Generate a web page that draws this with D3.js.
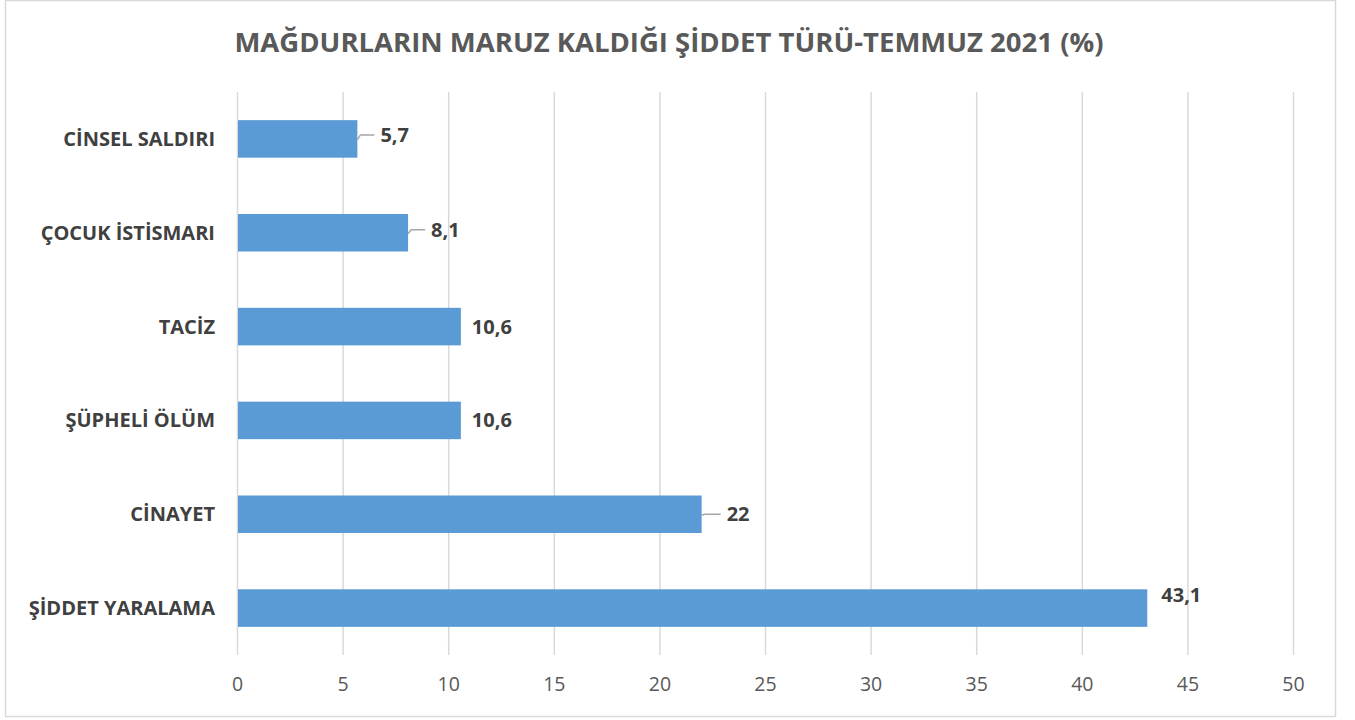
<!DOCTYPE html>
<meta charset="utf-8">
<style>
body { margin: 0; background: #fff; font-family: "Open Sans", sans-serif; }
.grid line { stroke: #d9d9d9; stroke-width: 1.5; }
.grid path { display: none; }
.xaxis path, .xaxis line { display: none; }
.xaxis text { fill: #595959; font-size: 19.5px; font-family: "Open Sans", sans-serif; }
.cat { fill: #404040; font-size: 20px; font-weight: bold; }
.val { fill: #404040; font-size: 20px; font-weight: bold; }
.title { fill: #595959; font-size: 27.5px; font-weight: bold; }
</style>
<body>
<script src="https://cdn.jsdelivr.net/npm/d3@7"></script>
<script>

var width = 1355,
    height = 720;

var title = "MAĞDURLARIN MARUZ KALDIĞI ŞİDDET TÜRÜ-TEMMUZ 2021 (%)";
var categories = ["CİNSEL SALDIRI", "ÇOCUK İSTİSMARI", "TACİZ", "ŞÜPHELİ ÖLÜM", "CİNAYET", "ŞİDDET YARALAMA"];
var values = [5.7, 8.1, 10.6, 10.6, 22, 43.1];
var labels = ["5,7", "8,1", "10,6", "10,6", "22", "43,1"];
var ticks = [0, 5, 10, 15, 20, 25, 30, 35, 40, 45, 50];

var margin = {top: 92, right: 62, bottom: 65, left: 237};

var svg = d3.select("body").append("svg")
    .attr("width", width)
    .attr("height", height);

// chart frame
svg.append("rect")
    .attr("x", 5.5).attr("y", 0.5)
    .attr("width", 1330).attr("height", 716)
    .attr("fill", "none")
    .attr("stroke", "#d9d9d9")
    .attr("stroke-width", 1.5);

svg.append("text")
    .attr("class", "title")
    .attr("x", 669)
    .attr("y", 52)
    .attr("text-anchor", "middle")
    .text(title);

var x = d3.scaleLinear()
    .domain([0, 50])
    .range([margin.left, width - margin.right]);

var y = d3.scaleBand()
    .domain(categories)
    .range([margin.top, height - margin.bottom])
    .paddingInner(0.6)
    .paddingOuter(0.3);

var g = svg.append("g");

g.append("g")
    .attr("class", "grid")
    .attr("transform", "translate(0," + (height - margin.bottom) + ")")
    .call(d3.axisBottom(x).tickValues(ticks).tickSize(-(height - margin.top - margin.bottom)).tickFormat(""));

g.append("g")
    .attr("class", "xaxis")
    .attr("transform", "translate(0," + (height - margin.bottom) + ")")
    .call(d3.axisBottom(x).tickValues(ticks).tickSize(0).tickPadding(22));

g.selectAll(".bar")
    .data(values)
  .enter().append("rect")
    .attr("class", "bar")
    .attr("x", x(0) + 1)
    .attr("y", function(d, i) { return y(categories[i]); })
    .attr("width", function(d) { return x(d) - x(0) - 1; })
    .attr("height", y.bandwidth())
    .attr("fill", "#5b9bd5");

g.selectAll(".cat")
    .data(categories)
  .enter().append("text")
    .attr("class", "cat")
    .attr("x", 215)
    .attr("y", function(d) { return y(d) + y.bandwidth() / 2; })
    .attr("dy", "0.35em")
    .attr("text-anchor", "end")
    .text(function(d) { return d; });

// label offsets (leader lines on some labels, as in the original)
var labelDx = [23, 23, 11, 11, 25, 14];
var labelDy = [-4, -3, 0, 0, 0, -13];
var leader = [true, true, false, false, true, false];

values.forEach(function(v, i) {
  var cy = y(categories[i]) + y.bandwidth() / 2;
  var x1 = x(v);
  if (leader[i]) {
    var lx = x1 + labelDx[i] - 6;
    var ly = cy + labelDy[i];
    g.append("path")
      .attr("d", "M" + x1 + "," + (cy + 1) + "L" + (x1 + 3) + "," + ly + "L" + lx + "," + ly)
      .attr("fill", "none")
      .attr("stroke", "#a6a6a6")
      .attr("stroke-width", 1.5);
  }
  g.append("text")
    .attr("class", "val")
    .attr("x", x1 + labelDx[i])
    .attr("y", cy + labelDy[i])
    .attr("dy", "0.35em")
    .text(labels[i]);
});

</script>
</body>
